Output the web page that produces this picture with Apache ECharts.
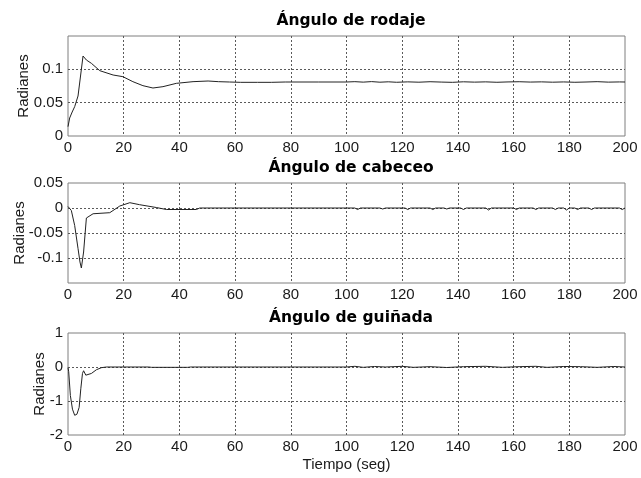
<!DOCTYPE html>
<html>
<head>
<meta charset="utf-8">
<script src="https://cdn.jsdelivr.net/npm/echarts@6/dist/echarts.min.js"></script>
<style>
  html, body { margin: 0; padding: 0; background: #fff; }
  #chart { width: 641px; height: 478px; }
</style>
</head>
<body>
<div id="chart"></div>
<script>
// Time axis ticks (seconds)
const xTicks = [0, 20, 40, 60, 80, 100, 120, 140, 160, 180, 200];

// Roll angle response
const rollT = [0, 0.6, 1.5, 2.4, 3.6, 4.0, 5.4, 6.6, 8.4, 11.4, 16.2, 19.7, 23.3, 26.9, 30.5, 34.1, 38.9, 44.9, 50.3, 54, 58, 62, 68, 73, 78, 90, 100, 103, 106, 109, 112, 115, 118, 122, 126, 130, 134, 138, 142, 146, 150, 154, 158, 162, 166, 170, 174, 178, 182, 186, 190, 194, 198, 200];
const rollV = [0.014, 0.027, 0.036, 0.044, 0.060, 0.063, 0.120, 0.114, 0.109, 0.098, 0.0915, 0.089, 0.0815, 0.0755, 0.072, 0.074, 0.079, 0.0815, 0.0825, 0.0815, 0.081, 0.0805, 0.0805, 0.0805, 0.081, 0.081, 0.081, 0.0815, 0.0808, 0.0816, 0.0807, 0.0813, 0.0806, 0.0812, 0.0807, 0.0814, 0.0809, 0.0805, 0.0813, 0.0808, 0.0812, 0.0806, 0.0811, 0.0814, 0.0809, 0.0812, 0.0807, 0.0811, 0.0806, 0.0810, 0.0815, 0.0808, 0.0811, 0.081];

// Pitch angle response
const pitchT = [0, 0.4, 1.2, 2.4, 3.6, 4.3, 4.8, 5.6, 6.6, 9, 15, 18.6, 22.2, 25.7, 31.7, 35.3, 46.1, 47.3, 100, 103, 104, 105, 112, 113, 114, 121, 122, 123, 130, 131, 132, 135, 136, 137, 141, 142, 143, 150, 151, 152, 160, 161, 162, 167, 168, 169, 174, 175, 176, 178, 179, 180, 182, 183, 184, 187, 188, 189, 198, 199, 200];
const pitchV = [0.003, 0.002, -0.005, -0.035, -0.081, -0.108, -0.120, -0.088, -0.020, -0.0115, -0.0094, 0.004, 0.0106, 0.0066, 0.001, -0.003, -0.003, 0, 0, 0, -0.003, 0, 0, -0.002, 0, 0, -0.003, 0, 0, -0.003, 0, 0, -0.002, 0, 0, -0.003, 0, 0, -0.004, 0, 0, -0.003, 0, 0, -0.003, 0, 0, -0.003, 0, 0, -0.004, 0, 0, -0.003, 0, 0, -0.003, 0, 0, -0.003, 0];

// Yaw angle response
const yawT = [0, 0.25, 0.85, 1.6, 2.4, 3.2, 4.0, 4.6, 5.2, 5.6, 6.4, 6.8, 8.4, 10.2, 12, 13.8, 29, 30, 43, 44, 100, 103, 106, 110, 114, 120, 124, 130, 136, 142, 150, 156, 162, 168, 172, 178, 184, 190, 196, 200];
const yawV = [-0.02, -0.14, -0.84, -1.24, -1.42, -1.39, -1.19, -0.64, -0.19, -0.11, -0.24, -0.29, -0.19, -0.08, -0.02, 0, 0, -0.01, -0.01, 0, 0, 0.02, -0.01, 0.015, 0, 0.02, -0.01, 0.01, -0.015, 0.01, 0.02, -0.01, 0.01, 0.02, -0.01, 0.015, 0.01, -0.01, 0.015, 0];

const titles = ['Ángulo de rodaje', 'Ángulo de cabeceo', 'Ángulo de guiñada'];
const yRanges = [[0, 0.15, 0.05], [-0.15, 0.05, 0.05], [-2, 1, 1]];

const pairs = (t, v) => t.map((x, i) => [x, v[i]]);
const seriesData = [pairs(rollT, rollV), pairs(pitchT, pitchV), pairs(yawT, yawV)];

const grids = [
  { left: 68, width: 557, top: 36, height: 100 },
  { left: 68, width: 557, top: 183, height: 100 },
  { left: 68, width: 557, top: 333, height: 102 }
];
const nameGaps = [37, 41, 21];

const dash = { color: '#5a5a5a', width: 1, type: [2, 2] };
const labelFont = { fontFamily: 'Liberation Sans, Arial, sans-serif', fontSize: 15, color: '#1a1a1a' };

const option = {
  animation: false,
  backgroundColor: '#fff',
  title: titles.map((txt, i) => ({
    text: txt,
    left: 346,
    top: grids[i].top - 28,
    textAlign: 'center',
    textStyle: { fontFamily: 'DejaVu Sans', fontWeight: 'bold', fontSize: 15.5, color: '#000' }
  })),
  grid: grids.map(g => Object.assign({
    show: true, borderColor: '#7f7f7f', borderWidth: 1, backgroundColor: 'transparent',
    containLabel: false, outerBoundsMode: 'none'
  }, g)),
  xAxis: grids.map((g, i) => ({
    type: 'value', gridIndex: i, min: 0, max: 200, interval: 20,
    axisLine: { show: false }, axisTick: { show: false },
    axisLabel: Object.assign({ margin: 4, formatter: v => (xTicks.includes(v) ? String(v) : '') }, labelFont),
    splitLine: { show: true, showMinLine: false, showMaxLine: false, lineStyle: dash },
    name: i === 2 ? 'Tiempo (seg)' : '',
    nameLocation: 'middle', nameGap: 22, nameMoveOverlap: false,
    nameTextStyle: labelFont
  })),
  yAxis: yRanges.map((r, i) => ({
    type: 'value', gridIndex: i, min: r[0], max: r[1], interval: r[2],
    axisLine: { show: false }, axisTick: { show: false },
    axisLabel: Object.assign({
      margin: 5,
      showMaxLabel: i !== 0,
      showMinLabel: i !== 1,
      formatter: v => String(+v.toFixed(2))
    }, labelFont),
    splitLine: { show: true, showMinLine: false, showMaxLine: false, lineStyle: dash },
    name: 'Radianes', nameLocation: 'middle', nameRotate: 90, nameGap: nameGaps[i],
    nameMoveOverlap: false,
    nameTextStyle: labelFont
  })),
  series: seriesData.map((d, i) => ({
    type: 'line', xAxisIndex: i, yAxisIndex: i, data: d,
    symbol: 'none', silent: true,
    lineStyle: { color: '#222', width: 1 }
  }))
};

echarts.init(document.getElementById('chart'), null, { renderer: 'canvas' }).setOption(option);
</script>
</body>
</html>
